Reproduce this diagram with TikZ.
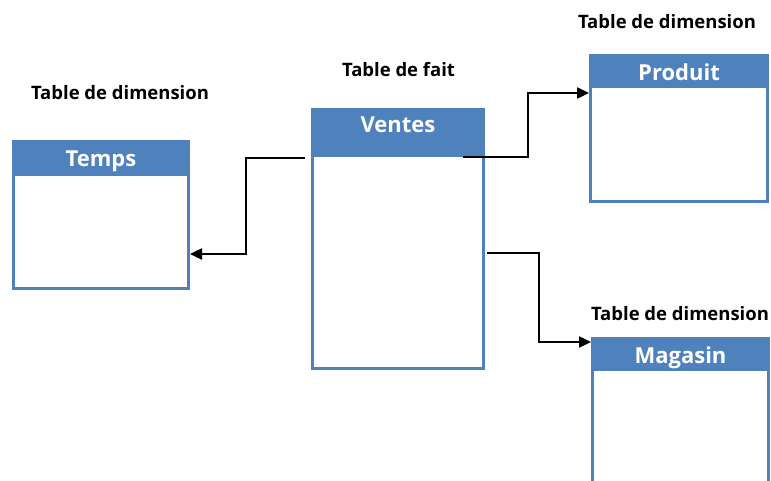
\documentclass[tikz,border=0pt]{standalone}
\usepackage{fontspec}
\setmainfont{Open Sans}
\usetikzlibrary{arrows.meta}
\definecolor{tblue}{HTML}{4F81BD}
\tikzset{
  tbody/.style={draw=tblue, line width=3pt, fill=white, rectangle, inner sep=0pt},
  thead/.style={fill=tblue, rectangle, inner sep=0pt},
  htext/.style={text=white, font=\fontsize{22}{25}\selectfont\bfseries, anchor=base, inner sep=0pt},
  caption/.style={font=\fontsize{18.5}{21}\selectfont\bfseries, anchor=base, inner sep=0pt},
  link/.style={draw=black, line width=2.4pt, -{Triangle[length=12pt,width=11pt]}}
}
\begin{document}
\begin{tikzpicture}[x=1pt,y=-1pt]
\useasboundingbox (0,0) rectangle (771,481);
\clip (0,0) rectangle (771,481);

% Temps
\node[tbody, minimum width=175pt, minimum height=147pt] (temps) at (101,215) {};
\node[thead, minimum width=178pt, minimum height=36pt] (tempsH) at (101,158) {};
\node[htext] (tempsT) at (101,167) {Temps};
\node[caption] (capTemps) at (120,100) {Table de dimension};

% Ventes
\node[tbody, minimum width=171pt, minimum height=259pt] (ventes) at (398,239) {};
\node[thead, minimum width=174pt, minimum height=49pt] (ventesH) at (398,132.5) {};
\node[htext] (ventesT) at (398,133) {Ventes};
\node[caption] (capVentes) at (398.5,77) {Table de fait};

% Produit
\node[tbody, minimum width=177pt, minimum height=146pt] (produit) at (679,128.5) {};
\node[thead, minimum width=180pt, minimum height=34pt] (produitH) at (679,71) {};
\node[htext] (produitT) at (679,81) {Produit};
\node[caption] (capProduit) at (667,29) {Table de dimension};

% Magasin
\node[tbody, minimum width=176pt, minimum height=200pt] (magasin) at (680.5,438.5) {};
\node[thead, minimum width=179pt, minimum height=34pt] (magasinH) at (680.5,354) {};
\node[htext] (magasinT) at (680.5,363) {Magasin};
\node[caption] (capMagasin) at (680,320) {Table de dimension};

% Connectors
\coordinate (fromV1) at (305,158);
\coordinate (fromV2) at (463,157);
\coordinate (fromV3) at (487,253);
\draw[link] (fromV1) -- (246,158) |- (temps.east |- 0,254);
\draw[link] (fromV2) -- (528,157) |- (produit.west |- 0,93);
\draw[link] (fromV3) -- (539,253) |- (magasin.west |- 0,342);
\end{tikzpicture}
\end{document}
